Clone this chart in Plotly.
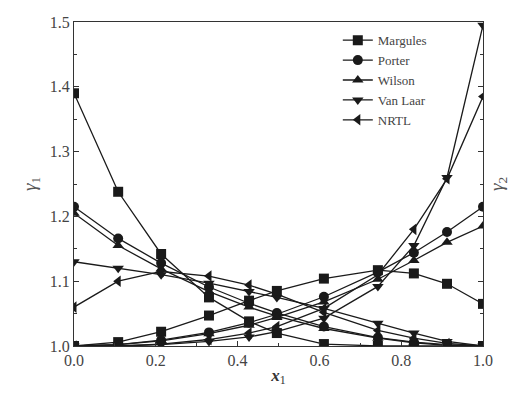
import plotly.graph_objects as go

x1 = [0.0, 0.108, 0.213, 0.33, 0.428, 0.496, 0.611, 0.743, 0.831, 0.912, 1.0]

models = ["Margules", "Porter", "Wilson", "Van Laar", "NRTL"]

gamma1 = {
    "Margules": [1.39, 1.238, 1.142, 1.075, 1.038, 1.02, 1.003, 1.0, 1.0, 1.0, 1.0],
    "Porter":   [1.215, 1.166, 1.128, 1.091, 1.066, 1.051, 1.030, 1.013, 1.006, 1.002, 1.0],
    "Wilson":   [1.205, 1.155, 1.119, 1.084, 1.060, 1.046, 1.027, 1.012, 1.005, 1.001, 1.0],
    "Van Laar": [1.13, 1.12, 1.11, 1.097, 1.084, 1.075, 1.058, 1.035, 1.02, 1.007, 1.0],
    "NRTL":     [1.06, 1.10, 1.115, 1.108, 1.094, 1.08, 1.052, 1.024, 1.012, 1.004, 1.0],
}

gamma2 = {
    "Margules": [1.0, 1.006, 1.022, 1.047, 1.07, 1.085, 1.104, 1.117, 1.112, 1.096, 1.065],
    "Porter":   [1.0, 1.002, 1.009, 1.021, 1.036, 1.049, 1.076, 1.114, 1.144, 1.176, 1.215],
    "Wilson":   [1.0, 1.002, 1.008, 1.019, 1.032, 1.044, 1.068, 1.103, 1.132, 1.160, 1.185],
    "Van Laar": [1.0, 1.0, 1.002, 1.007, 1.014, 1.022, 1.043, 1.092, 1.155, 1.26, 1.495],
    "NRTL":     [1.0, 1.0, 1.003, 1.01, 1.02, 1.03, 1.058, 1.11, 1.18, 1.258, 1.385],
}

symbols = {
    "Margules": "square",
    "Porter": "circle",
    "Wilson": "triangle-up",
    "Van Laar": "triangle-down",
    "NRTL": "triangle-left",
}

ink = "#1a1a1a"
fig = go.Figure()
for m in models:
    fig.add_trace(go.Scatter(
        x=x1, y=gamma1[m], name=m, mode="lines+markers",
        line=dict(color=ink, width=1.3),
        marker=dict(symbol=symbols[m], size=10, color=ink),
        yaxis="y", legendgroup=m, showlegend=True,
    ))
for m in models:
    fig.add_trace(go.Scatter(
        x=x1, y=gamma2[m], name=m, mode="lines+markers",
        line=dict(color=ink, width=1.3),
        marker=dict(symbol=symbols[m], size=10, color=ink),
        yaxis="y2", legendgroup=m, showlegend=False,
    ))

font_family = "Liberation Serif, Times New Roman, serif"
axis_common = dict(
    range=[1.0, 1.5], dtick=0.1, tickformat=".1f",
    ticks="inside", ticklen=5, tickcolor="#333",
    showgrid=False, zeroline=False,
    showline=True, linecolor="#333", linewidth=1,
    minor=dict(ticks="inside", ticklen=3, dtick=0.05, tickcolor="#333"),
)

fig.update_layout(
    width=514, height=393,
    margin=dict(l=74, r=31, t=22, b=43),
    paper_bgcolor="white", plot_bgcolor="white",
    font=dict(family=font_family, size=16, color="#444"),
    xaxis=dict(
        range=[0.0, 1.0], dtick=0.2, tickformat=".1f",
        ticks="inside", ticklen=5, tickcolor="#333",
        showgrid=False, zeroline=False,
        showline=True, linecolor="#333", linewidth=1, mirror=True,
        minor=dict(ticks="inside", ticklen=3, dtick=0.1, tickcolor="#333"),
        title=dict(text="<b><i>x</i></b><sub>1</sub>", standoff=0,
                   font=dict(size=17, color="#333")),
    ),
    yaxis=dict(
        **axis_common,
        title=dict(text="<i>γ</i><sub>1</sub>", standoff=8,
                   font=dict(size=19, color="#555")),
    ),
    yaxis2=dict(
        **axis_common,
        overlaying="y", side="right", showticklabels=False,
        title=dict(text="<i>γ</i><sub>2</sub>", standoff=6,
                   font=dict(size=19, color="#555")),
    ),
    legend=dict(
        x=0.645, y=0.99, xanchor="left", yanchor="top",
        bgcolor="rgba(0,0,0,0)", borderwidth=0,
        font=dict(family=font_family, size=13, color="#444"),
        itemwidth=30, tracegroupgap=0,
    ),
)

fig.write_html("out.html")
